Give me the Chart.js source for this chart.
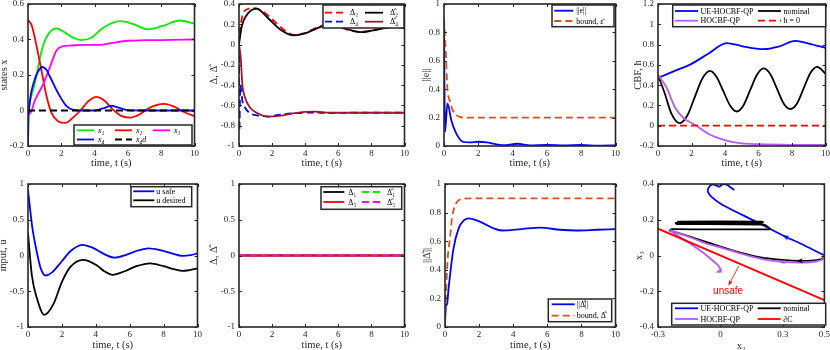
<!DOCTYPE html>
<html>
<head>
<meta charset="utf-8">
<title></title>
<script src="https://cdn.jsdelivr.net/npm/chart.js@4.4.1/dist/chart.umd.min.js"></script>
<style>
body { margin:0; background:#fff; width:830px; height:350px; overflow:hidden; position:relative; }
canvas { position:absolute; }
</style>
</head>
<body>
<script>
// ---------- values ----------
// states (top left)
var x1T = [0, 0.2, 0.4, 0.6, 0.8, 1.0, 1.3, 1.7, 2.2, 2.6, 3.2, 3.8, 4.5, 5.5, 6.3, 7.2, 8.2, 9.1, 10];
var x1Y = [0, 0.08, 0.15, 0.24, 0.33, 0.39, 0.44, 0.463, 0.44, 0.416, 0.397, 0.41, 0.465, 0.503, 0.488, 0.457, 0.48, 0.507, 0.49];
var x2T = [0, 0.22, 0.52, 0.82, 1.12, 1.42, 1.8, 2.25, 2.7, 3.15, 3.6, 4.1, 4.6, 5.1, 5.6, 6.15, 6.7, 7.2, 7.7, 8.2, 8.8, 9.4, 10];
var x2Y = [0.51, 0.48, 0.36, 0.22, 0.077, -0.015, -0.06, -0.07, -0.04, 0.0, 0.05, 0.077, 0.055, 0.005, -0.03, -0.04, -0.022, 0.01, 0.03, 0.037, 0.02, -0.01, -0.032];
var x3T = [0, 0.12, 0.42, 0.92, 1.32, 1.72, 2.12, 2.5, 3.4, 4.3, 5.0, 6.0, 7.0, 8.0, 10];
var x3Y = [0, -0.017, 0.058, 0.15, 0.245, 0.34, 0.363, 0.366, 0.37, 0.37, 0.38, 0.393, 0.396, 0.397, 0.40];
var x4T = [0, 0.03, 0.06, 0.15, 0.32, 0.55, 0.85, 1.1, 1.32, 1.82, 2.32, 2.72, 3.2, 4.0, 4.5, 5.0, 5.5, 6.0, 7, 10];
var x4Y = [-0.2, -0.05, 0.0, 0.08, 0.15, 0.21, 0.245, 0.23, 0.19, 0.096, 0.024, 0.003, 0.0, 0.0, 0.012, 0.026, 0.015, 0.002, 0, 0];
var x4dT = [0, 10];
var x4dY = [0, 0];

// Delta estimates (top, second)
var d2T = [0, 0.26, 0.66, 0.95, 1.4, 2.0, 2.6, 3.3, 3.9, 4.6, 5.2, 5.9, 6.7, 7.3, 8.0, 8.8, 9.5, 10];
var d2Y = [0.11, 0.31, 0.356, 0.36, 0.33, 0.25, 0.16, 0.095, 0.11, 0.16, 0.19, 0.18, 0.14, 0.125, 0.14, 0.165, 0.175, 0.16];
var dh2T = [0, 0.16, 0.46, 1.06, 1.76, 2.56, 3.3, 4.0, 4.7, 5.3, 6.0, 6.8, 7.4, 8.1, 8.9, 9.5, 10];
var dh2Y = [0, 0.175, 0.29, 0.355, 0.26, 0.14, 0.09, 0.11, 0.16, 0.19, 0.18, 0.14, 0.122, 0.14, 0.165, 0.175, 0.16];
var d4T = [0, 0.02, 0.08, 0.2, 0.4, 0.7, 1.2, 1.8, 2.5, 3.5, 4.5, 5.5, 7, 10];
var d4Y = [0, -0.85, -0.4, -0.55, -0.63, -0.68, -0.70, -0.71, -0.69, -0.675, -0.67, -0.675, -0.672, -0.672];
var dh4T = [0, 0.1, 0.2, 0.36, 0.66, 1.16, 1.76, 2.56, 3.36, 4.6, 5.5, 7, 10];
var dh4Y = [0, -0.12, -0.39, -0.52, -0.62, -0.68, -0.71, -0.70, -0.675, -0.662, -0.672, -0.672, -0.672];

// error norm (top, third)
var eT = [0, 0.06, 0.2, 0.43, 0.72, 1.1, 1.5, 2.0, 2.5, 3.05, 3.6, 4.3, 5.0, 6.0, 7.0, 8.0, 9.0, 10];
var eY = [0.85, 0.1, 0.3, 0.18, 0.087, 0.03, 0.025, 0.03, 0.025, 0.012, 0.006, 0.016, 0.005, 0.008, 0.004, 0.007, 0.003, 0.005];
var ebT = [0, 0.1, 0.2, 0.33, 0.52, 0.91, 1.3, 10];
var ebY = [0.9, 0.675, 0.405, 0.32, 0.25, 0.205, 0.2, 0.2];

// CBF (top right)
var ueT = [0, 1, 2, 3, 4.1, 5, 6.3, 7.2, 8.2, 9, 10];
var ueY = [0.47, 0.54, 0.61, 0.71, 0.815, 0.785, 0.755, 0.78, 0.836, 0.81, 0.768];
var nomT = [0, 0.4, 0.8, 1.3, 1.75, 2.2, 2.65, 3.1, 3.5, 3.9, 4.3, 4.7, 5.1, 5.5, 5.9, 6.3, 6.7, 7.1, 7.5, 7.9, 8.3, 8.7, 9.1, 9.5, 10];
var nomY = [0.5, 0.32, 0.12, 0.025, 0.1, 0.285, 0.465, 0.54, 0.48, 0.34, 0.2, 0.14, 0.2, 0.35, 0.5, 0.565, 0.51, 0.365, 0.22, 0.165, 0.22, 0.37, 0.52, 0.58, 0.515];
var hqT = [0, 0.5, 1.0, 1.5, 2.3, 3.0, 3.4, 4.4, 5.0, 6.0, 8.0, 10];
var hqY = [0.5, 0.38, 0.185, 0.08, 0.0, -0.08, -0.11, -0.16, -0.175, -0.182, -0.188, -0.19];
var h0T = [0, 10];
var h0Y = [0, 0];

// input (bottom left)
var usT = [0, 0.1, 0.25, 0.5, 0.75, 1.05, 1.4, 2.0, 2.5, 3.2, 3.8, 4.5, 5.1, 5.8, 6.5, 7.1, 7.8, 8.5, 9.1, 9.6, 10];
var usY = [0.92, 0.7, 0.4, 0.07, -0.18, -0.28, -0.24, -0.08, 0.06, 0.15, 0.11, 0.02, -0.03, 0.01, 0.07, 0.1, 0.075, 0.03, -0.005, 0.005, 0.03];
var udT = [0, 0.23, 0.53, 0.96, 1.5, 2.0, 2.5, 3.25, 4.05, 4.5, 5.0, 5.7, 6.4, 7.2, 8.0, 8.6, 9.15, 10];
var udY = [0.31, -0.28, -0.6, -0.83, -0.68, -0.37, -0.16, -0.06, -0.135, -0.22, -0.27, -0.22, -0.15, -0.11, -0.15, -0.19, -0.215, -0.18];

// Delta 1,3 (bottom, second) - all zero
var zT = [0, 10];
var zY = [0, 0];

// Delta-hat norm (bottom, third)
var ndT = [0, 0.06, 0.12, 0.21, 0.5, 0.8, 1.1, 1.4, 2.07, 2.85, 3.33, 4.5, 5.6, 6.75, 7.7, 8.9, 10];
var ndY = [0.035, 0.15, 0.16, 0.27, 0.55, 0.69, 0.745, 0.76, 0.735, 0.69, 0.675, 0.685, 0.695, 0.68, 0.675, 0.68, 0.685];
var nbT = [0, 0.08, 0.16, 0.31, 0.41, 0.7, 1.0, 1.5, 10];
var nbY = [0.02, 0.29, 0.48, 0.64, 0.76, 0.875, 0.895, 0.9, 0.9];

// phase plane x2 - x3 (bottom right)
var pUeX2 = [0.5, 0.4, 0.313, 0.17, 0.011, -0.04, -0.06, -0.055, -0.037, -0.02, -0.005, 0.01, 0.03, 0.05, 0.067];
var pUeX3 = [0.0, 0.059, 0.105, 0.19, 0.283, 0.325, 0.357, 0.382, 0.398, 0.392, 0.385, 0.398, 0.396, 0.38, 0.366];
var pNomX2 = [0.5, 0.49, 0.45, 0.38, 0.3, 0.2, 0.1, 0.0, -0.1, -0.2, -0.245, -0.235, -0.1, 0.1, 0.24, 0.21, -0.21, -0.215, 0.2, 0.205, -0.2, -0.205, 0.2];
var pNomX3 = [0.0, -0.018, -0.027, -0.03, -0.025, -0.012, 0.015, 0.05, 0.088, 0.125, 0.14, 0.147, 0.146, 0.146, 0.148, 0.172, 0.176, 0.182, 0.183, 0.188, 0.186, 0.19, 0.19];
var pHqX2 = [0.5, 0.49, 0.447, 0.38, 0.297, 0.2, 0.1, 0.0, -0.076, -0.15, -0.219, -0.243, -0.225, -0.19, -0.13, -0.076, -0.04, -0.013, 0.0, 0.003, -0.008];
var pHqX3 = [0.0, -0.022, -0.035, -0.04, -0.036, -0.02, 0.01, 0.045, 0.07, 0.105, 0.133, 0.143, 0.125, 0.1, 0.055, 0.01, -0.025, -0.053, -0.075, -0.085, -0.09];
var pBndX2 = [-0.3, 0.5];
var pBndX3 = [0.15, -0.25];
var x2Ticks = [-0.3, 0, 0.3, 0.5];
var unsafeArrow = [[0.088, -0.06], [0.045, -0.155]];
var unsafeLabel = [0.037, -0.2];

// ---------- drawing ----------
Chart.defaults.font.family = "'Liberation Serif', 'DejaVu Serif', serif";
Chart.defaults.font.size = 9;
Chart.defaults.color = '#262626';

var YW = 40;          // y axis strip width
var INK = '#262626';

function pts(xs, ys) {
	return xs.map(function (x, i) { return { x: x, y: ys[i] }; });
}
function line(label, xs, ys, color, dashed, extra) {
	var d = {
		label: label, data: pts(xs, ys), borderColor: color, borderWidth: 1.8,
		borderDash: dashed ? [7, 4] : [], pointRadius: 0, fill: false,
		cubicInterpolationMode: 'monotone'
	};
	for (var k in extra) d[k] = extra[k];
	return d;
}

function arrowHead(ctx, x0, y0, x1, y1, color, size) {
	var dx = x1 - x0, dy = y1 - y0, L = Math.sqrt(dx * dx + dy * dy) || 1;
	var ux = dx / L, uy = dy / L;
	ctx.fillStyle = color;
	ctx.beginPath();
	ctx.moveTo(x1 + ux * size, y1 + uy * size);
	ctx.lineTo(x1 - ux * size - uy * size * 0.7, y1 - uy * size + ux * size * 0.7);
	ctx.lineTo(x1 - ux * size * 0.4, y1 - uy * size * 0.4);
	ctx.lineTo(x1 - ux * size + uy * size * 0.7, y1 - uy * size - ux * size * 0.7);
	ctx.closePath();
	ctx.fill();
}

function framePlugin(cfg) {
	return {
		id: 'frame' + cfg.id,
		afterDraw: function (chart) {
			var a = chart.chartArea, ctx = chart.ctx;
			var sx = chart.scales.x, sy = chart.scales.y;
			ctx.save();
			// notes (arrows, labels)
			if (cfg.notes) cfg.notes(chart, ctx);
			// inward ticks
			ctx.strokeStyle = INK;
			ctx.lineWidth = 1;
			ctx.setLineDash([]);
			ctx.beginPath();
			sx.ticks.forEach(function (t) {
				var p = Math.round(sx.getPixelForValue(t.value)) + 0.5;
				ctx.moveTo(p, a.bottom); ctx.lineTo(p, a.bottom - 3);
				ctx.moveTo(p, a.top); ctx.lineTo(p, a.top + 3);
			});
			sy.ticks.forEach(function (t) {
				var p = Math.round(sy.getPixelForValue(t.value)) + 0.5;
				ctx.moveTo(a.left, p); ctx.lineTo(a.left + 3, p);
				ctx.moveTo(a.right, p); ctx.lineTo(a.right - 3, p);
			});
			ctx.stroke();
			ctx.lineWidth = 1.6;
			ctx.strokeRect(a.left, a.top, a.right - a.left, a.bottom - a.top);
			// legend box
			var lg = cfg.legend;
			if (lg) {
				var bx = a.left + lg.box[0], by = a.top + lg.box[1];
				ctx.fillStyle = '#fff';
				ctx.fillRect(bx, by, lg.box[2], lg.box[3]);
				ctx.lineWidth = 1.5;
				ctx.strokeStyle = INK;
				ctx.strokeRect(bx, by, lg.box[2], lg.box[3]);
				ctx.font = (lg.italic ? 'italic ' : '') + "8px 'Liberation Serif', 'DejaVu Serif', serif";
				ctx.textBaseline = 'middle';
				ctx.textAlign = 'left';
				chart.data.datasets.forEach(function (d, i) {
					var col = i % lg.cols.length, row = Math.floor(i / lg.cols.length);
					var x0 = bx + lg.cols[col], y0 = by + lg.rows[row];
					ctx.beginPath();
					ctx.setLineDash(d.borderDash);
					ctx.strokeStyle = d.borderColor;
					ctx.lineWidth = d.borderWidth;
					ctx.moveTo(x0, y0); ctx.lineTo(x0 + lg.len, y0);
					ctx.stroke();
					ctx.setLineDash([]);
					ctx.fillStyle = '#000';
					ctx.fillText(d.label, x0 + lg.len + lg.gap, y0 + 0.5);
				});
			}
			ctx.restore();
		}
	};
}

function fmt(v) { return String(Math.round(v * 100) / 100); }

function panel(cfg) {
	var L = cfg.plot[0], R = cfg.plot[1], T = cfg.plot[2], B = cfg.plot[3];
	var left = L - YW, top = T - 12;
	var bottom = cfg.row === 0 ? 175 : 356;
	var w = R + 6 - left, h = bottom - top;
	var c = document.createElement('canvas');
	c.width = w; c.height = h;
	c.style.left = left + 'px'; c.style.top = top + 'px';
	c.style.width = w + 'px'; c.style.height = h + 'px';
	document.body.appendChild(c);
	cfg.series.forEach(function (d, i) { d.order = -i; });
	var xScale = {
		type: 'linear', min: cfg.xr[0], max: cfg.xr[1],
		grid: { display: false, drawTicks: false }, border: { display: false },
		ticks: { stepSize: cfg.xStep, padding: 2, maxRotation: 0, autoSkip: false, callback: fmt },
		title: { display: true, text: cfg.xTitle, font: { size: 10.5, lineHeight: 1 }, padding: { top: 0, bottom: bottom - cfg.xTitleY - 5.25 } },
		afterFit: function (s) { s.height = bottom - B; }
	};
	if (cfg.xTicks) {
		xScale.afterBuildTicks = function (s) { s.ticks = cfg.xTicks.map(function (v) { return { value: v }; }); };
	}
	new Chart(c, {
		type: 'line',
		data: { datasets: cfg.series },
		options: {
			responsive: false, animation: false, events: [],
			layout: { padding: { left: 0, right: 6, top: 12, bottom: 0 } },
			plugins: { legend: { display: false }, tooltip: { enabled: false } },
			scales: {
				x: xScale,
				y: {
					type: 'linear', min: cfg.yr[0], max: cfg.yr[1],
					grid: { display: false, drawTicks: false }, border: { display: false },
					ticks: { stepSize: cfg.yStep, padding: 4, autoSkip: false, callback: fmt },
					title: { display: true, text: cfg.yTitle, font: { size: 10.5, lineHeight: 1 }, padding: { top: cfg.yTitleX - left - 5.25, bottom: 0 } },
					afterFit: function (s) { s.width = YW; }
				}
			}
		},
		plugins: [framePlugin(cfg)]
	});
}

var TT = 'time, t (s)';

panel({
	id: 1, row: 0, plot: [28, 195, 4, 146], xr: [0, 10], xStep: 2, yr: [-0.2, 0.6], yStep: 0.2,
	xTitle: TT, xTitleY: 163.3, yTitle: 'states x', yTitleX: 4,
	series: [
		line('x\u2081', x1T, x1Y, '#00ee00'),
		line('x\u2082', x2T, x2Y, '#ff0000'),
		line('x\u2083', x3T, x3Y, '#ff00ff'),
		line('x\u2084', x4T, x4Y, '#0000ff'),
		line('x\u2084d', x4dT, x4dY, '#000000', true)
	],
	legend: { box: [46, 121, 118, 20], cols: [3, 41, 79], rows: [5.3, 14.5], len: 17, gap: 4, italic: true }
});

panel({
	id: 2, row: 0, plot: [239, 405, 4, 146], xr: [0, 10], xStep: 2, yr: [-1, 0.4], yStep: 0.2,
	xTitle: TT, xTitleY: 163.3, yTitle: '\u0394, \u0394\u0302', yTitleX: 214,
	series: [
		line('\u0394\u2082', d2T, d2Y, '#ff0000', true),
		line('\u0394\u0302\u2082', dh2T, dh2Y, '#000000'),
		line('\u0394\u2084', d4T, d4Y, '#0000ff', true),
		line('\u0394\u0302\u2084', dh4T, dh4Y, '#a2142f')
	],
	legend: { box: [84, 1, 81, 23], cols: [2, 42], rows: [7.7, 16.7], len: 18, gap: 7 }
});

panel({
	id: 3, row: 0, plot: [444, 616, 4, 146], xr: [0, 10], xStep: 2, yr: [0, 1], yStep: 0.2,
	xTitle: TT, xTitleY: 163.3, yTitle: '||e||', yTitleX: 426,
	series: [
		line('||e||', eT, eY, '#0000ff'),
		line('bound, \u03b5\u0304', ebT, ebY, '#d95319', true)
	],
	legend: { box: [108, 1, 62, 21.7], cols: [2.3], rows: [5.7, 16], len: 19, gap: 3 }
});

panel({
	id: 4, row: 0, plot: [658, 826, 4, 146], xr: [0, 10], xStep: 2, yr: [-0.2, 1.2], yStep: 0.2,
	xTitle: TT, xTitleY: 163.3, yTitle: 'CBF, h', yTitleX: 638,
	series: [
		line('UE-HOCBF-QP', ueT, ueY, '#0000ff'),
		line('nominal', nomT, nomY, '#000000'),
		line('HOCBF-QP', hqT, hqY, '#b55bf5'),
		line('h = 0', h0T, h0Y, '#ff0000', true)
	],
	legend: { box: [14.7, 1, 153, 21.7], cols: [2.3, 85.3], rows: [6, 15.7], len: 23, gap: 2.5 }
});

panel({
	id: 5, row: 1, plot: [28, 198, 184, 327], xr: [0, 10], xStep: 2, yr: [-1, 1], yStep: 0.5,
	xTitle: TT, xTitleY: 345, yTitle: 'input, u', yTitleX: 3,
	series: [
		line('u safe', usT, usY, '#0000ff'),
		line('u desired', udT, udY, '#000000')
	],
	legend: { box: [103, 2.7, 60.7, 20], cols: [2.3], rows: [4.6, 13.6], len: 21, gap: 2 }
});

panel({
	id: 6, row: 1, plot: [239, 405, 184, 327], xr: [0, 10], xStep: 2, yr: [-1, 1], yStep: 0.5,
	xTitle: TT, xTitleY: 345, yTitle: '\u0394, \u0394\u0302', yTitleX: 214,
	series: [
		line('\u0394\u2081', zT, zY, '#000000'),
		line('\u0394\u0302\u2081', zT, zY, '#00ee00', true),
		line('\u0394\u2083', zT, zY, '#ff0000'),
		line('\u0394\u0302\u2083', zT, zY, '#ff00ff', true)
	],
	legend: { box: [82, 2.7, 80.7, 22.6], cols: [2.3, 41], rows: [5.3, 15.3], len: 21, gap: 4 }
});

panel({
	id: 7, row: 1, plot: [445, 616, 184, 327], xr: [0, 10], xStep: 2, yr: [0, 1], yStep: 0.2,
	xTitle: TT, xTitleY: 345, yTitle: '||\u0394\u0302||', yTitleX: 427,
	series: [
		line('||\u0394\u0302||', ndT, ndY, '#0000ff'),
		line('bound, \u0394\u0302', nbT, nbY, '#d95319', true)
	],
	legend: { box: [103.3, 115, 63.4, 22.7], cols: [3.4], rows: [5.3, 16.7], len: 23, gap: 2 }
});

function pathArrow(chart, ctx, di, k, color) {
	var d = chart.data.datasets[di].data, sx = chart.scales.x, sy = chart.scales.y;
	arrowHead(ctx, sx.getPixelForValue(d[k - 1].x), sy.getPixelForValue(d[k - 1].y),
		sx.getPixelForValue(d[k].x), sy.getPixelForValue(d[k].y), color, 3.5);
}

panel({
	id: 8, row: 1, plot: [658, 826, 184, 327], xr: [-0.3, 0.5], xTicks: x2Ticks, yr: [-0.4, 0.4], yStep: 0.2,
	xTitle: 'x\u2082', xTitleY: 346.7, yTitle: 'x\u2083', yTitleX: 639,
	series: [
		line('UE-HOCBF-QP', pUeX2, pUeX3, '#0000ff', false, { cubicInterpolationMode: 'default', tension: 0.25 }),
		line('nominal', pNomX2, pNomX3, '#000000', false, { cubicInterpolationMode: 'default', tension: 0.15 }),
		line('HOCBF-QP', pHqX2, pHqX3, '#b55bf5', false, { cubicInterpolationMode: 'default', tension: 0.25 }),
		line('\u2202C', pBndX2, pBndX3, '#ff0000', false, { cubicInterpolationMode: 'default', tension: 0 })
	],
	legend: { box: [13.7, 119.3, 154, 21.7], cols: [3.3, 86], rows: [5, 15.7], len: 23, gap: 2.5 },
	notes: function (chart, ctx) {
		var sx = chart.scales.x, sy = chart.scales.y;
		pathArrow(chart, ctx, 0, 2, '#0000ff');
		pathArrow(chart, ctx, 1, 3, '#000000');
		pathArrow(chart, ctx, 2, 4, '#b55bf5');
		pathArrow(chart, ctx, 2, pHqX2.length - 1, '#b55bf5');
		var ax0 = sx.getPixelForValue(unsafeArrow[0][0]), ay0 = sy.getPixelForValue(unsafeArrow[0][1]);
		var ax1 = sx.getPixelForValue(unsafeArrow[1][0]), ay1 = sy.getPixelForValue(unsafeArrow[1][1]);
		ctx.strokeStyle = '#ff0000';
		ctx.lineWidth = 0.8;
		ctx.beginPath(); ctx.moveTo(ax0, ay0); ctx.lineTo(ax1, ay1); ctx.stroke();
		arrowHead(ctx, ax0, ay0, ax1, ay1, '#ff0000', 3);
		ctx.fillStyle = '#ff0000';
		ctx.font = "10px 'Liberation Sans', Arial, sans-serif";
		ctx.textAlign = 'center';
		ctx.textBaseline = 'middle';
		ctx.fillText('unsafe', sx.getPixelForValue(unsafeLabel[0]), sy.getPixelForValue(unsafeLabel[1]));
	}
});
</script>
</body>
</html>
